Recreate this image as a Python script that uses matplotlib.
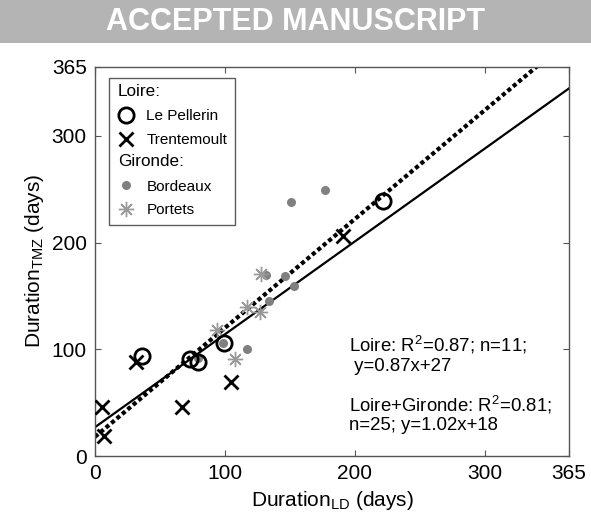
import matplotlib
matplotlib.use("Agg")
import matplotlib.pyplot as plt
import numpy as np
from matplotlib.legend_handler import HandlerBase
from matplotlib.lines import Line2D
from matplotlib.patches import Rectangle
from matplotlib.text import Text

plt.rcParams["font.family"] = ["Liberation Sans", "DejaVu Sans"]
plt.rcParams["mathtext.fontset"] = "custom"
plt.rcParams["mathtext.rm"] = "Liberation Sans"
plt.rcParams["mathtext.it"] = "Liberation Sans:italic"

# ---- data -------------------------------------------------------------------
pellerin_x = [35.9, 73.0, 79.5, 99.5, 221.8]
pellerin_y = [93.7, 90.6, 87.8, 105.6, 239.0]
trente_x = [5.1, 7.2, 31.3, 66.7, 105.0, 191.0]
trente_y = [45.6, 18.7, 87.8, 46.2, 69.0, 206.0]
bordeaux_x = [79.5, 98.7, 116.7, 132.0, 133.8, 146.0, 153.0, 151.0, 177.0]
bordeaux_y = [91.5, 106.2, 100.0, 169.6, 145.0, 168.7, 159.6, 238.4, 249.3]
portets_x = [93.6, 107.7, 116.7, 126.9, 127.7]
portets_y = [118.0, 90.6, 139.4, 135.2, 170.3]

fit_loire = (0.87, 27)        # solid
fit_all = (1.02, 18)          # dotted
ticks = [0, 100, 200, 300, 365]
LIM = 365


class HeaderHandler(HandlerBase):
    """legend 헤더 행: 핸들 자리에 텍스트를 그려 마커 열에 맞춰 왼쪽 정렬."""
    def create_artists(self, legend, orig_handle, xdescent, ydescent,
                       width, height, fontsize, trans):
        t = Text(-xdescent + 1, -ydescent + height / 2, orig_handle.get_label(),
                 va="center", ha="left", fontsize=fontsize * 1.12, transform=trans,
                 family=["Liberation Sans", "DejaVu Sans"])
        return [t]


fig = plt.figure(figsize=(5.91, 5.22), dpi=100)

# banner
fig.patches.append(Rectangle((0, 0.918), 1, 0.082, transform=fig.transFigure,
                             facecolor="#b4b4b4", edgecolor="none"))
fig.text(0.5, 0.958, "ACCEPTED MANUSCRIPT", ha="center", va="center",
         color="white", fontsize=22, fontweight="bold")

ax = fig.add_axes([0.1607, 0.1264, 0.802, 0.746])

xs = np.array([0, LIM])
ax.plot(xs, fit_loire[0] * xs + fit_loire[1], "k-", lw=1.6, zorder=2)
ax.plot(xs, fit_all[0] * xs + fit_all[1], color="k", lw=3.0,
        ls=(0, (1.0, 0.7)), zorder=2)

ax.plot(bordeaux_x, bordeaux_y, "o", color="#808080", ms=6.5, mew=0, zorder=3)
ax.plot(portets_x, portets_y, ls="none", marker=(8, 2, 0), color="#9a9a9a",
        ms=11, mew=1.0, zorder=3)
ax.plot(pellerin_x, pellerin_y, "o", mfc="none", mec="k", ms=11, mew=2.0, zorder=4)
ax.plot(trente_x, trente_y, "x", color="k", ms=9.5, mew=2.0, zorder=4)

ax.set_xlim(0, LIM)
ax.set_ylim(0, LIM)
ax.set_xticks(ticks)
ax.set_yticks(ticks)
ax.tick_params(direction="in", top=True, right=True, length=4, width=0.8,
               color="#555555", labelsize=15, pad=6)
for s in ax.spines.values():
    s.set_color("#555555")
    s.set_linewidth(1.0)

ax.set_xlabel(r"Duration$_{\mathrm{LD}}$ (days)", fontsize=15, labelpad=4)
ax.set_ylabel(r"Duration$_{\mathrm{TMZ}}$ (days)", fontsize=15, labelpad=4)

ax.text(0.536, 0.262, "Loire: R$^2$=0.87; n=11;\n y=0.87x+27", transform=ax.transAxes,
        fontsize=13.4, va="center", ha="left", linespacing=1.15)
ax.text(0.536, 0.108, "Loire+Gironde: R$^2$=0.81;\nn=25; y=1.02x+18", transform=ax.transAxes,
        fontsize=13.4, va="center", ha="left", linespacing=1.1)

handles = [
    Line2D([], [], ls="none", label="Loire:"),
    Line2D([], [], ls="none", marker="o", mfc="none", mec="k", ms=11, mew=2.0),
    Line2D([], [], ls="none", marker="x", color="k", ms=9.5, mew=2.0),
    Line2D([], [], ls="none", label="Gironde:"),
    Line2D([], [], ls="none", marker="o", color="#808080", ms=6.5, mew=0),
    Line2D([], [], ls="none", marker=(8, 2, 0), color="#9a9a9a", ms=11, mew=1.0),
]
labels = ["", "Le Pellerin", "Trentemoult", "", "Bordeaux", "Portets"]
hmap = {handles[0]: HeaderHandler(), handles[3]: HeaderHandler()}
leg = ax.legend(handles, labels, handler_map=hmap, loc="upper left",
                bbox_to_anchor=(0.0295, 0.970), borderaxespad=0, fontsize=11,
                frameon=True, fancybox=False, edgecolor="#333333",
                handlelength=1.2, handletextpad=0.75, labelspacing=0.62,
                borderpad=0.5)
leg.get_frame().set_linewidth(1.0)

fig.savefig("out.png", dpi=100)
